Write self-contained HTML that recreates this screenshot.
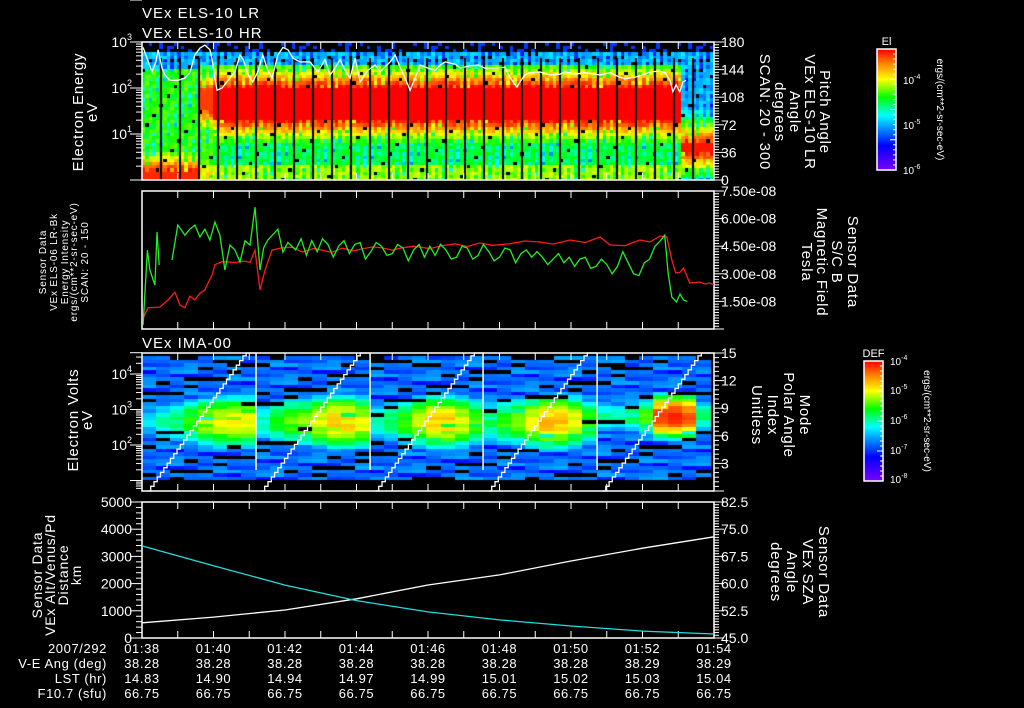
<!DOCTYPE html>
<html><head><meta charset="utf-8"><style>
html,body{margin:0;padding:0;background:#000;}
#wrap{position:relative;width:1024px;height:708px;overflow:hidden;background:#000;}
canvas{position:absolute;}
svg{position:absolute;left:0;top:0;}
text{font-family:"Liberation Sans",sans-serif;fill:#fff;}
</style></head><body>
<div id="wrap">
<canvas id="c1" width="572" height="138" style="left:142px;top:42px"></canvas>
<canvas id="c3" width="572" height="138" style="left:142px;top:353px"></canvas>
<svg id="s" width="1024" height="708"></svg>
</div>
<script>
// ---------- data ----------
const timeLabels=["01:38","01:40","01:42","01:44","01:46","01:48","01:50","01:52","01:54"];
const veAng=["38.28","38.28","38.28","38.28","38.28","38.28","38.28","38.29","38.29"];
const lstHr=["14.83","14.90","14.94","14.97","14.99","15.01","15.02","15.03","15.04"];
const f107=["66.75","66.75","66.75","66.75","66.75","66.75","66.75","66.75","66.75"];
// ELS spectrogram segments (minutes from 01:38, log10 eV, log10 intensity)
const elsSegStart=[0,1.6,2.0,15.0];
const elsBandLo=[0.0,1.5,1.3,0.6];
const elsBandHi=[0.2,1.95,2.0,0.8];
const elsBandLevel=[-3.4,-3.45,-3.3,-3.35];
const elsBaseLevel=[-4.35,-4.3,-4.5,-5.0];
const elsTopCut=[2.4,2.45,2.5,2.25];
const speckle=[0,0.2,-0.3,0.1,-0.6,0,0.3,-0.2,0.1,-0.5,0.2,0,-0.1,0.3,-0.9,0.1,0,-0.2,0.2,-0.4,0.1,0,-3,0.25,-0.15,0.05,-0.35,0.15,0,-0.7,0.3,-0.05,0.1,-0.25,0.2,0.05,-1.2];
// pitch angle line
const paT=[0.03,0.14,0.28,0.39,0.45,0.56,0.64,0.78,1.01,1.2,1.34,1.48,1.62,1.76,1.9,1.96,2.04,2.1,2.24,2.41,2.6,2.74,2.83,2.97,3.1,3.24,3.38,3.52,3.64,3.8,3.94,4.08,4.22,4.42,4.7,4.92,5.12,5.26,5.4,5.54,5.68,5.82,5.96,6.1,6.32,6.52,6.66,6.94,7.08,7.22,7.36,7.5,7.64,7.78,8.0,8.2,8.34,8.48,8.76,8.9,9.17,9.4,9.59,9.82,10.15,10.29,10.49,10.57,10.71,10.85,11.13,11.41,11.69,11.83,12.11,12.39,12.81,13.09,13.37,13.51,13.79,14.07,14.21,14.49,14.63,14.77,14.85,14.94,15.04,15.13,15.22];
const paDeg=[173,159,141,154,170,146,137,130,130,133,140,163,172,176,170,157,133,117,120,130,141,163,157,137,128,141,163,143,133,163,173,170,159,154,154,141,157,137,146,157,143,133,159,128,143,150,141,154,163,147,133,117,133,150,146,143,150,154,151,146,149,150,146,146,147,134,121,128,137,140,141,137,138,141,138,140,137,140,134,132,134,138,141,142,140,130,115,124,115,128,130];
// panel 2: red = ELS energy intensity, green = magnetic field (units 1e-8 T)
const redT=[0.03,0.17,0.5,0.73,0.92,1.06,1.2,1.34,1.48,1.62,1.76,1.85,1.96,2.04,2.24,2.6,2.88,3.02,3.16,3.3,3.44,3.64,3.9,4.2,4.48,4.8,5.04,5.3,5.6,5.9,6.16,6.45,6.72,7.0,7.22,7.6,8.06,8.4,8.76,9.1,9.45,9.8,10.29,10.7,11.13,11.5,11.97,12.4,12.81,13.09,13.51,13.93,14.21,14.49,14.68,14.82,14.93,15.04,15.15,15.32,15.6,15.74,15.88,16.0];
const redV=[1.7e-5,2.9e-5,3.0e-5,4.3e-5,6.3e-5,3.3e-5,2.9e-5,5.2e-5,4.3e-5,6.0e-5,7.1e-5,1.0e-4,1.5e-4,2.5e-4,2.9e-4,2.8e-4,3.0e-4,2.8e-4,5.2e-4,7.1e-5,1.9e-4,5.2e-4,5.8e-4,6.0e-4,4.7e-4,5.6e-4,5.2e-4,4.6e-4,5.7e-4,5.0e-4,5.5e-4,6.1e-4,5.8e-4,5.2e-4,5.7e-4,6.3e-4,5.6e-4,6.5e-4,7.1e-4,6.2e-4,7.4e-4,6.6e-4,7.1e-4,8.2e-4,7.8e-4,7.0e-4,8.6e-4,7.6e-4,1.0e-3,6.7e-4,6.5e-4,8.6e-4,7.8e-4,1.05e-3,1.0e-3,3.2e-4,1.66e-4,1.7e-4,2.1e-4,1.0e-4,1.05e-4,9.5e-5,1.0e-4,9.1e-5];
const grnT=[0.03,0.15,0.22,0.36,0.42,0.48,0.56,0.84,1.0,1.2,1.34,1.48,1.62,1.76,1.9,2.04,2.18,2.32,2.46,2.6,2.74,2.88,3.02,3.16,3.3,3.4,3.52,3.8,3.94,4.08,4.3,4.45,4.6,4.75,4.9,5.05,5.2,5.35,5.5,5.65,5.8,5.95,6.1,6.25,6.4,6.55,6.7,6.85,7.0,7.15,7.3,7.45,7.6,7.75,7.9,8.05,8.2,8.35,8.5,8.65,8.8,8.95,9.1,9.25,9.4,9.55,9.7,9.85,10.0,10.15,10.3,10.45,10.6,10.75,10.9,11.05,11.2,11.35,11.5,11.65,11.8,11.95,12.1,12.25,12.4,12.55,12.7,12.85,13.0,13.15,13.3,13.45,13.6,13.75,13.9,14.05,14.2,14.35,14.5,14.62,14.72,14.82,14.95,15.05,15.15,15.25];
const grnV=[0.22,4.29,3.2,2.39,5.27,3.48,null,3.75,5.65,5.1,5.43,5.65,5.0,5.43,4.83,5.81,5.1,3.2,4.56,4.3,3.64,4.8,4.56,6.62,3.2,4.4,4.83,5.43,4.18,4.7,4.3,4.9,4.0,4.8,4.2,4.9,4.6,3.9,4.5,4.8,4.1,4.6,4.7,3.8,4.2,4.7,4.5,4.0,4.1,4.6,4.4,3.7,4.3,4.6,3.9,4.5,4.0,4.6,4.3,3.8,3.9,4.5,4.4,3.8,4.0,4.6,4.2,3.7,3.9,4.4,4.3,3.6,4.1,4.3,3.9,4.2,3.9,3.5,3.8,4.1,3.6,3.9,3.4,3.8,3.9,3.3,3.4,3.8,3.5,3.0,3.4,4.2,3.6,3.0,2.9,3.6,3.8,4.5,4.8,5.1,3.0,1.74,1.47,1.9,1.57,1.5];
// IMA spectrogram (log10 DEF peak per column, 8 columns per sweep)
const imaSweepStart=[0,3.19,6.38,9.54,12.73];
const imaSweepDur=3.18;
const imaPeak=[-6.3,-6.0,-5.8,-5.5,-5.2,-5.0,-4.95,-5.0,
 -6.0,-5.6,-5.4,-5.3,-5.0,-4.75,-4.8,-5.0,
 -6.0,-5.8,-5.5,-5.1,-4.8,-4.8,-5.0,-5.4,
 -5.8,-5.5,-5.3,-5.0,-4.7,-4.7,-5.0,-5.5,
 -5.9,-6.0,-5.8,-5.4,-4.2,-4.1,-4.3,-5.8];
const imaModeMax=15;
// panel 4
const orbT=[0,2,4,6,8,10,12,14,16];
const altKm=[560,770,1030,1440,1950,2320,2830,3300,3720];
const szaDeg=[70.4,64.9,59.6,55.3,52.2,50.0,48.3,46.9,46.1];

// ---------- axes ----------
const X0=142,X1=714,PXM=35.75;
const xOf=t=>X0+t*PXM;
const yE1=e=>180-e*46;
const yPA=d=>180-d*138/180;
const yL2=v=>191+(-2-Math.log10(v))*46;
const yB=v=>329-v/7.5*138;
const yE3=e=>374+(4-e)*35.5;
const yMode=m=>491-m*138/15;
const yAlt=a=>638-a/5000*136;
const ySZA=s=>638-(s-45)/37.5*136;

const cmapStops=[[0,[120,0,255]],[0.2,[0,0,255]],[0.35,[0,150,255]],[0.45,[0,255,255]],[0.6,[0,255,0]],[0.75,[255,255,0]],[0.87,[255,140,0]],[1,[255,0,0]]];
function cmap(f){f=Math.max(0,Math.min(1,f));for(let i=1;i<cmapStops.length;i++){if(f<=cmapStops[i][0]){const a=cmapStops[i-1],b=cmapStops[i];const u=(f-a[0])/(b[0]-a[0]);return 'rgb('+a[1].map((c,k)=>Math.round(c+(b[1][k]-c)*u)).join(',')+')';}}return 'rgb(255,0,0)';}

// ---------- ELS canvas ----------
(function(){const c=document.getElementById('c1').getContext('2d');
 let col=0;for(let t=0;t<16;t+=0.1,col++){let s=0;for(let i=0;i<elsSegStart.length;i++)if(t>=elsSegStart[i])s=i;
  let row=0;for(let e=0;e<3;e+=0.07,row++){const sp=speckle[(col*11+row*5)%speckle.length];let v;let black=false;
   if(e>2.75){if(sp>0.15)v=-5.3;else black=true;}
   else if(e>elsTopCut[s]){v=-5.0+sp*0.6;if(sp<-0.8)black=true;}
   else if(e>=elsBandLo[s]&&e<=elsBandHi[s]){v=elsBandLevel[s];}
   else{const d=e<elsBandLo[s]?elsBandLo[s]-e:e-elsBandHi[s];v=Math.max(elsBaseLevel[s],elsBandLevel[s]-d*2.2)+sp*0.5;if(e<0.3&&s>0&&s<3)v+=0.35;if(sp<-2)black=true;}
   c.fillStyle=black?'#000':cmap((v+6)/2.7);
   const x=xOf(t)-X0,y0=yE1(e+0.07)-42,y1=yE1(e)-42;c.fillRect(Math.floor(x),Math.floor(y0),4,Math.ceil(y1-y0)+1);}}
 c.fillStyle='#000';for(let x=160;x<=700;x+=19)c.fillRect(x-X0,16,2,122);
})();
// ---------- IMA canvas ----------
(function(){const c=document.getElementById('c3').getContext('2d');const cw=imaSweepDur/8;
 imaPeak.forEach((pk,i)=>{const sw=Math.floor(i/8),k=i%8;const t0=imaSweepStart[sw]+k*cw;
  let row=0;for(let e=1.0;e<4.5;e+=0.1,row++){const sp=speckle[(i*7+row*4)%speckle.length];
   const ec=sw===4?2.75:2.6,w=sw===4?0.45:0.6;let v=Math.max(-6.8+sp*0.9,pk-((e-ec)/w)**2+sp*0.3);
   const black=(sp<-0.55&&v<-6.2)||(e>4.2&&sp<-0.25);
   c.fillStyle=black?'#000':cmap((v+8)/4);
   const x0=xOf(t0)-X0,x1=Math.min(xOf(t0+cw),X1)-X0;const ya=yE3(e+0.1)-353,yb=yE3(e)-353;
   c.fillRect(Math.floor(x0),Math.floor(ya),Math.ceil(x1-x0),Math.ceil(yb-ya));}});
})();

// ---------- SVG ----------
const NS='http://www.w3.org/2000/svg';const S=document.getElementById('s');
function el(tag,attrs,parent){const e=document.createElementNS(NS,tag);for(const k in attrs)e.setAttribute(k,attrs[k]);(parent||S).appendChild(e);return e;}
function txt(str,x,y,o){o=o||{};const t=el('text',{x:x,y:y,'font-size':o.fs||14,'text-anchor':o.anchor||'start',fill:o.fill||'#fff'});if(o.rot)t.setAttribute('transform','rotate('+o.rot+' '+x+' '+y+')');if(o.ls)t.setAttribute('letter-spacing',o.ls);t.textContent=str;return t;}
function line(x1,y1,x2,y2,col,w){return el('line',{x1:x1,y1:y1,x2:x2,y2:y2,stroke:col||'#fff','stroke-width':w||1});}
function poly(pts,col,name){const p=el('polyline',{points:pts.map(p=>p[0].toFixed(1)+','+p[1].toFixed(1)).join(' '),fill:'none',stroke:col,'stroke-width':1.3});return p;}

const panels=[[42,180],[191,329],[353,491],[502,638]];
panels.forEach((p,i)=>{const g=el('g',{});
 el('rect',{x:X0,y:p[0],width:X1-X0,height:p[1]-p[0],fill:'none',stroke:'#fff','stroke-width':1.5},g);
 for(let m=1;m<16;m++){const x=xOf(m);el('line',{x1:x,y1:p[0],x2:x,y2:p[0]+7,stroke:'#fff'},g);el('line',{x1:x,y1:p[1],x2:x,y2:p[1]-7,stroke:'#fff'},g);}
});
function logAxis(yfun,dmin,dmax,name,labels){const g=el('g',{});
 for(let d=Math.floor(dmin);d<dmax;d++)for(let k=1;k<10;k++){const lv=d+Math.log10(k);if(lv<dmin||lv>dmax)continue;const y=yfun(lv);el('line',{x1:X0-(k===1?12:6),y1:y,x2:X0,y2:y,stroke:'#fff'},g);}
 const yt=yfun(dmax);el('line',{x1:X0-12,y1:yt,x2:X0,y2:yt,stroke:'#fff'},g);
 labels.forEach(d=>{const y=yfun(d);const t=el('text',{x:132,y:y+5,'font-size':14,'text-anchor':'end',fill:'#fff'},g);t.textContent='10';const s=el('tspan',{dy:-7,'font-size':9},t);s.textContent=String(d);});}
function linAxis(x,vmin,vmax,maj,nmin,yfun,fmt,name){const g=el('g',{});
 const step=maj/nmin;for(let v=vmin;v<=vmax+1e-9;v+=step){const y=yfun(v);const isM=Math.abs((v-vmin)/maj-Math.round((v-vmin)/maj))<1e-6;el('line',{x1:x,y1:y,x2:x+(isM?10:5),y2:y,stroke:'#fff'},g);
  if(isM){const t=el('text',{x:x+7,y:y+5,'font-size':14,fill:'#fff'},g);t.textContent=fmt(v);}}return g;}
// left axes
logAxis(yE1,0,3,'els-energy-axis',[1,2,3]);
logAxis(yL2,-5,-2,'intensity-axis',[-4,-3,-2]);
logAxis(yE3,0.7,4.6,'ima-energy-axis',[2,3,4]);
(function(){const g=el('g',{});
 for(let a=0;a<=5000;a+=200){const y=yAlt(a);el('line',{x1:X0-(a%1000===0?12:6),y1:y,x2:X0,y2:y,stroke:'#fff'},g);if(a%1000===0){const t=el('text',{x:132,y:y+5,'font-size':14,'text-anchor':'end',fill:'#fff'},g);t.textContent=String(a);}}})();
// right axes
linAxis(X1,0,180,36,10,yPA,v=>String(Math.round(v)),'pitch-angle-axis');
linAxis(X1,0,7.5,1.5,10,yB,v=>v<0.01?'':v.toFixed(2)+'e-08','magnetic-field-axis');
linAxis(X1,0,15,3,6,yMode,v=>v<0.01?'':String(Math.round(v)),'mode-axis');
linAxis(X1,45,82.5,7.5,10,ySZA,v=>v.toFixed(1),'sza-axis');

// panel 1 pitch angle line
poly(paT.map((t,i)=>[xOf(t),yPA(paDeg[i])]),'#fff','pitch-angle-line');
// panel 2
poly(redT.map((t,i)=>[xOf(t),yL2(redV[i])]),'#ff1a1a','energy-intensity-line');
(function(){let seg=[];const segs=[];grnT.forEach((t,i)=>{if(grnV[i]===null){if(seg.length)segs.push(seg);seg=[];}else seg.push([xOf(t),yB(grnV[i])]);});if(seg.length)segs.push(seg);segs.forEach(s=>poly(s,'#22ee22','magnetic-field-line'));})();
// panel 3 mode staircase + sweep boundaries
imaSweepStart.forEach((s,i)=>{const pts=[];const n=32;for(let k=0;k<=n;k++){const t=s+0.15+k*(2.95/n);if(xOf(t)>X1)break;const m=Math.min(imaModeMax,(k/n)*16.2);pts.push([xOf(t),yMode(m)]);pts.push([xOf(t+2.95/n),yMode(m)]);}
 poly(pts.map(q=>[Math.min(q[0],X1),Math.max(q[1],353)]),'#fff','mode-staircase');
 if(i>0){const v=line(xOf(s),353,xOf(s),470,'#fff',1.5);}});
// panel 4
poly(orbT.map((t,i)=>[xOf(t),yAlt(altKm[i])]),'#fff','altitude-line');
poly(orbT.map((t,i)=>[xOf(t),ySZA(szaDeg[i])]),'#22dddd','sza-line');

// titles
txt('VEx ELS-10 LR',142,18,{fs:15,ls:1});
txt('VEx ELS-10 HR',142,38,{fs:15,ls:1});
txt('VEx IMA-00',142,348,{fs:15,ls:1});
// left/right labels
function vlabel(lines,xs,yc,rot,fs,fill,name){const g=el('g',{});lines.forEach((l,i)=>{const t=el('text',{x:xs[i],y:yc,'font-size':fs,'text-anchor':'middle',fill:fill,transform:'rotate('+rot+' '+xs[i]+' '+yc+')','letter-spacing':0.8},g);t.textContent=l;});}
vlabel(['Electron Energy','eV'],[83,97],112,-90,15,'#fff','els-y-title');
vlabel(['Sensor Data','VEx ELS-06 LR-Bk','Energy Intensity','ergs/(cm**2-sr-sec-eV)','SCAN: 20 - 150'],[46,57,68,77,88],262,-90,10,'#ff2020','intensity-y-title');
vlabel(['Electron Volts','eV'],[78,92],420,-90,15,'#fff','ima-y-title');
vlabel(['Sensor Data','VEx Alt/Venus/Pd','Distance','km'],[42,55,68,81],575,-90,14,'#fff','altitude-y-title');
vlabel(['Pitch Angle','VEx ELS-10 LR','Angle','degrees','SCAN: 20 - 300'],[820,805,790,775,760],112,90,15,'#fff','pitch-y-title');
vlabel(['Sensor Data','S/C B','Magnetic Field','Tesla'],[848,832,817,802],262,90,15,'#22ee22','bfield-y-title');
vlabel(['Mode','Polar Angle','Index','Unitless'],[800,784,768,752],415,90,15,'#fff','mode-y-title');
vlabel(['Sensor Data','VEx SZA','Angle','degrees'],[819,803,787,771],572,90,15,'#22dddd','sza-y-title');

// colorbars
const defs=el('defs',{});const gr=el('linearGradient',{id:'cg',x1:0,y1:1,x2:0,y2:0},defs);
cmapStops.forEach(s=>el('stop',{offset:s[0],'stop-color':'rgb('+s[1].join(',')+')'},gr));
function cbar(x,y,w,h,title,labs,ly,unitsX,name){const g=el('g',{});
 el('rect',{x:x,y:y,width:w,height:h,fill:'url(#cg)',stroke:'#fff','stroke-width':1.5},g);
 for(let k=0;k<=24;k++){const yy=y+h*k/24;el('line',{x1:x+w-(k%6===0?6:3),y1:yy,x2:x+w,y2:yy,stroke:'#fff'},g);}
 const tt=el('text',{x:x+w/2,y:y-4,'font-size':11,'text-anchor':'middle',fill:'#fff'},g);tt.textContent=title;
 labs.forEach((l,i)=>{const t=el('text',{x:x+w+7,y:ly[i]+4,'font-size':10,fill:'#fff'},g);t.textContent='10';const s=el('tspan',{dy:-5,'font-size':7},t);s.textContent=l;});
 const u=el('text',{x:unitsX,y:y+h/2,'font-size':10,'text-anchor':'middle',fill:'#fff',transform:'rotate(90 '+unitsX+' '+(y+h/2)+')'},g);u.textContent='ergs/(cm**2-sr-sec-eV)';}
cbar(877,49,19,121,'El',['-4','-5','-6'],[80,125,170],937,'els-colorbar');
cbar(864,361,19,120,'DEF',['-4','-5','-6','-7','-8'],[361,390,420,450,479],924,'ima-colorbar');

// bottom annotation rows
const rowsY=[653,668,683,698];
const rowNames=['2007/292','V-E Ang (deg)','LST (hr)','F10.7 (sfu)'];
const rowData=[timeLabels,veAng,lstHr,f107];
rowNames.forEach((n,r)=>{const t=txt(n,107,rowsY[r],{fs:13,anchor:'end',ls:0.6});
 rowData[r].forEach((v,i)=>{const tt=txt(v,xOf(i*2),rowsY[r],{fs:13,anchor:'middle',ls:0.6});});});
</script>
</body></html>
